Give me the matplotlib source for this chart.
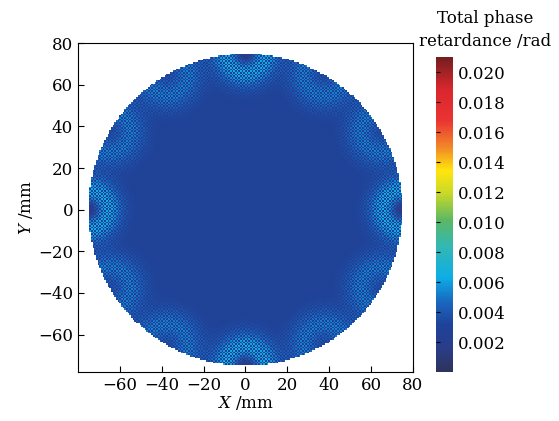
import numpy as np
import matplotlib.pyplot as plt
from matplotlib.colors import LinearSegmentedColormap

plt.rcParams['font.family'] = ['DejaVu Serif']
plt.rcParams['mathtext.fontset'] = 'custom'
plt.rcParams['mathtext.it'] = 'DejaVu Serif:italic'
plt.rcParams['mathtext.rm'] = 'DejaVu Serif'

# aperture / field description (mm, rad)
radius_mm = 75.0
background = 0.0030
spot_angles_deg = [0, 30, 60, 90, 120, 150, 180, 210, 240, 270, 300, 330]
spot_peak = [0.0018, 0.0012, 0.0012, 0.0018, 0.0012, 0.0012,
             0.0018, 0.0012, 0.0012, 0.0018, 0.0012, 0.0012]
spot_core = [0.0020, 0.0, 0.0, 0.0020, 0.0, 0.0,
             0.0020, 0.0, 0.0, 0.0020, 0.0, 0.0]
ring_r = [9, 10, 10, 9, 10, 10, 9, 10, 10, 9, 10, 10]
cbar_ticks = [0.002, 0.004, 0.006, 0.008, 0.010, 0.012, 0.014, 0.016, 0.018, 0.020]

# colormap (muted jet, as printed)
cmap = LinearSegmentedColormap.from_list('jet_print', [
    (0.00, (0.18, 0.20, 0.36)),
    (0.08, (0.16, 0.24, 0.55)),
    (0.15, (0.12, 0.26, 0.60)),
    (0.22, (0.10, 0.40, 0.75)),
    (0.30, (0.05, 0.68, 0.90)),
    (0.40, (0.20, 0.72, 0.70)),
    (0.48, (0.35, 0.72, 0.40)),
    (0.57, (0.80, 0.85, 0.15)),
    (0.64, (1.00, 0.90, 0.05)),
    (0.71, (0.95, 0.55, 0.15)),
    (0.80, (0.92, 0.20, 0.20)),
    (0.90, (0.85, 0.15, 0.18)),
    (1.00, (0.45, 0.12, 0.12)),
])

step = 0.8
xs = np.arange(-radius_mm, radius_mm + step, step)
X, Y = np.meshgrid(xs, xs)
ii, jj = np.meshgrid(np.arange(len(xs)), np.arange(len(xs)))
checker = np.where((ii + jj) % 2 == 0, 1.0, -1.0)

Z = np.full(X.shape, background)
for ang, pk, core, rr in zip(spot_angles_deg, spot_peak, spot_core, ring_r):
    cx = radius_mm * np.cos(np.radians(ang))
    cy = radius_mm * np.sin(np.radians(ang))
    d = np.hypot(X - cx, Y - cy)
    ring = pk * np.exp(-((d - rr) / 8.0) ** 2)
    Z += ring * (1 + 0.9 * checker)
    Z -= core * np.exp(-(d / 5.0) ** 2)
Z = np.ma.masked_where(np.hypot(X, Y) > radius_mm, Z)

fig = plt.figure(figsize=(5.59, 4.21), dpi=100)
ax = fig.add_axes([0.1395, 0.1164, 0.599, 0.781])
mesh = ax.pcolormesh(X, Y, Z, cmap=cmap, vmin=0, vmax=0.021, shading='auto')
ax.set_xlim(-80, 80)
ax.set_ylim(-78, 80)
ax.set_xticks([-60, -40, -20, 0, 20, 40, 60, 80])
ax.set_yticks([-60, -40, -20, 0, 20, 40, 60, 80])
ax.set_xticklabels(['\u221260', '\u221240', '\u221220', '0', '20', '40', '60', '80'])
ax.set_yticklabels(['\u221260', '\u221240', '\u221220', '0', '20', '40', '60', '80'])
ax.tick_params(direction='in', labelsize=12, length=4, width=0.8)
for s in ax.spines.values():
    s.set_linewidth(0.8)
ax.set_xlabel(r'$X$ /mm', fontsize=12, labelpad=0)
ax.set_ylabel(r'$Y$ /mm', fontsize=12, labelpad=2)

cax = fig.add_axes([0.780, 0.1164, 0.030, 0.748])
cb = fig.colorbar(mesh, cax=cax, ticks=cbar_ticks)
cb.outline.set_visible(False)
cb.ax.set_yticklabels(['%.3f' % t for t in cbar_ticks])
cb.ax.tick_params(labelsize=12, direction='in', length=3, left=True, right=False)
fig.text(0.868, 0.955, 'Total phase', ha='center', va='center', fontsize=12)
fig.text(0.868, 0.902, 'retardance /rad', ha='center', va='center', fontsize=12)

fig.savefig('out.png', dpi=100)
